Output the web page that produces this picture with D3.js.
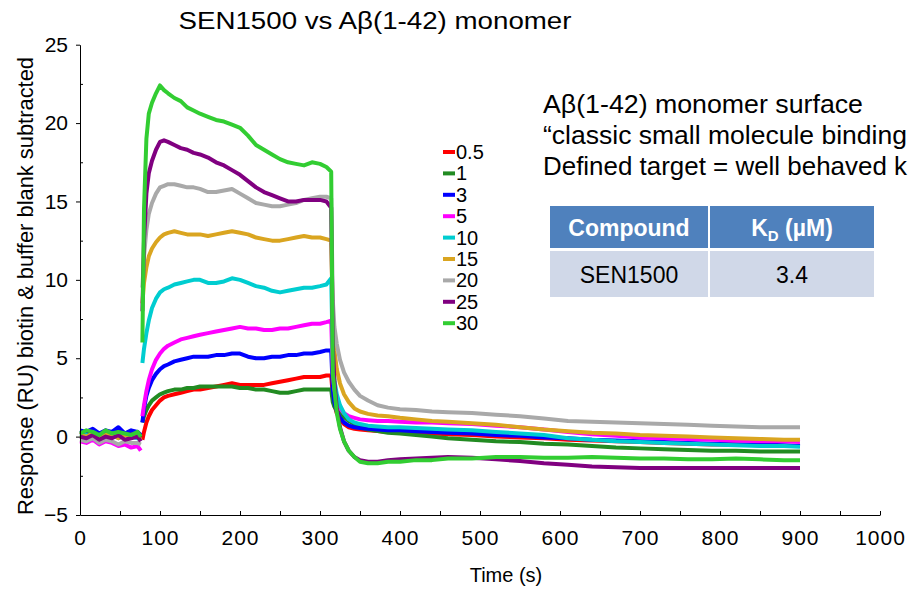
<!DOCTYPE html>
<html>
<head>
<meta charset="utf-8">
<script src="https://cdn.jsdelivr.net/npm/d3@7/dist/d3.min.js"></script>
<style>
  html, body { margin: 0; padding: 0; background: #fff; }
  svg { display: block; font-family: "Liberation Sans", Arial, Helvetica, sans-serif; }
</style>
</head>
<body>
<svg id="chart" width="912" height="590"></svg>
<script>
// Sensorgram time grid (s); null entries split baseline from injection
const times = [
  0, 8, 16, 24, 32, 40, 48, 56, 64, 72, 76,
  77,
  78, 80, 83, 86, 90, 95, 100, 105, 110, 118, 126, 134, 142, 150, 160, 170, 180, 190, 200, 210,
  220, 230, 240, 250, 260, 270, 280, 290, 300, 308, 314,
  316, 318, 321, 325, 330, 336, 343, 350, 360, 372, 385, 400, 420, 440, 460, 490, 520, 550, 580, 610,
  640, 670, 700, 730, 760, 790, 820, 850, 880, 900
];

// Concentrations (µM) and their trace colours
const concentrations = ["0.5", "1", "3", "5", "10", "15", "20", "25", "30"];
const traceColors = ["#ff0000", "#228b22", "#0000ff", "#ff00ff", "#00cdd0", "#daa520", "#a9a9a9", "#800080", "#32cd32"];

// Response (RU), biotin & buffer blank subtracted
const resp05 = [
  0.3, 0.2, 0.4, 0.1, 0.3, 0.2, 0.4, 0.1, 0.3, 0.2, 0.0,
  null,
  -0.2, 0.3, 0.9, 1.3, 1.7, 2.0, 2.3, 2.5, 2.6, 2.7, 2.8, 2.9, 3.0, 3.0, 3.1, 3.2, 3.3, 3.4, 3.3, 3.3,
  3.3, 3.3, 3.4, 3.5, 3.6, 3.7, 3.8, 3.8, 3.8, 3.9, 3.9,
  2.6, 2.0, 1.5, 1.1, 0.8, 0.6, 0.5, 0.45, 0.4, 0.35, 0.3, 0.3, 0.25, 0.2, 0.15, 0.1, 0.0, -0.05, -0.1, -0.2,
  -0.25, -0.3, -0.35, -0.4, -0.45, -0.5, -0.5, -0.55, -0.6, -0.6
];
const resp1 = [
  0.1, 0.2, 0.0, 0.2, 0.1, 0.3, 0.0, 0.2, 0.1, 0.1, -0.1,
  null,
  0.9, 1.3, 1.7, 2.0, 2.3, 2.5, 2.7, 2.8, 2.9, 3.0, 3.0, 3.1, 3.1, 3.2, 3.2, 3.2, 3.2, 3.2, 3.1, 3.1,
  3.0, 3.0, 2.9, 2.8, 2.8, 2.9, 3.0, 3.0, 3.0, 3.0, 3.0,
  2.2, 1.9, 1.7, 1.5, 1.25, 1.0, 0.8, 0.6, 0.45, 0.35, 0.25, 0.2, 0.1, 0.0, -0.1, -0.2, -0.3, -0.35, -0.45, -0.5,
  -0.6, -0.7, -0.75, -0.8, -0.85, -0.9, -0.9, -0.95, -0.95, -0.95
];
const resp3 = [
  0.4, 0.3, 0.5, 0.2, 0.4, 0.3, 0.6, 0.2, 0.4, 0.3, 0.1,
  null,
  0.9, 1.8, 2.6, 3.1, 3.6, 4.0, 4.3, 4.5, 4.6, 4.8, 4.9, 5.0, 5.1, 5.1, 5.1, 5.2, 5.2, 5.3, 5.3, 5.1,
  5.0, 5.0, 5.1, 5.1, 5.2, 5.2, 5.3, 5.3, 5.4, 5.5, 5.5,
  3.0, 2.2, 1.6, 1.2, 0.9, 0.7, 0.6, 0.55, 0.5, 0.45, 0.4, 0.4, 0.35, 0.3, 0.25, 0.2, 0.1, 0.05, -0.05, -0.1,
  -0.2, -0.25, -0.3, -0.35, -0.4, -0.45, -0.5, -0.5, -0.55, -0.6
];
const resp5 = [
  -0.3, -0.4, -0.2, -0.5, -0.3, -0.4, -0.6, -0.5, -0.7, -0.6, -0.9,
  null,
  1.3, 2.0, 2.9, 3.6, 4.3, 4.9, 5.3, 5.6, 5.8, 6.0, 6.2, 6.3, 6.4, 6.5, 6.6, 6.7, 6.8, 6.9, 7.0, 6.9,
  6.9, 6.8, 6.8, 6.9, 6.9, 7.0, 7.1, 7.2, 7.2, 7.3, 7.4,
  4.0, 3.0, 2.3, 1.8, 1.5, 1.3, 1.2, 1.1, 1.05, 1.0, 1.0, 0.95, 0.9, 0.9, 0.85, 0.8, 0.7, 0.6, 0.45, 0.3,
  0.15, 0.05, -0.05, -0.1, -0.15, -0.2, -0.25, -0.3, -0.3, -0.35
];
const resp10 = [
  0.0, 0.1, -0.1, 0.1, 0.0, 0.2, -0.1, 0.1, 0.0, -0.1, -0.2,
  null,
  4.7, 5.6, 6.6, 7.4, 8.2, 8.8, 9.2, 9.4, 9.5, 9.7, 9.8, 9.9, 10.0, 10.0, 9.8, 9.8, 9.9, 10.1, 10.0, 9.8,
  9.6, 9.5, 9.3, 9.2, 9.3, 9.4, 9.5, 9.5, 9.6, 9.7, 10.1,
  5.0, 3.6, 2.7, 2.0, 1.5, 1.1, 0.9, 0.8, 0.7, 0.65, 0.6, 0.6, 0.55, 0.5, 0.45, 0.4, 0.3, 0.2, 0.1, -0.1,
  -0.2, -0.3, -0.35, -0.4, -0.45, -0.5, -0.55, -0.6, -0.6, -0.65
];
const resp15 = [
  0.1, 0.0, 0.2, 0.0, 0.1, 0.1, -0.1, 0.1, 0.0, 0.0, -0.2,
  null,
  8.5, 9.8, 10.8, 11.5, 12.0, 12.4, 12.7, 12.9, 13.0, 13.1, 13.0, 12.9, 12.9, 12.9, 12.8, 12.9, 13.0, 13.1, 13.0, 12.9,
  12.7, 12.6, 12.5, 12.5, 12.6, 12.7, 12.8, 12.7, 12.7, 12.6, 12.5,
  7.5, 5.5, 4.3, 3.4, 2.7, 2.2, 1.8, 1.6, 1.45, 1.35, 1.3, 1.2, 1.1, 1.0, 0.95, 0.85, 0.75, 0.6, 0.45, 0.35,
  0.25, 0.2, 0.1, 0.05, 0.0, -0.05, -0.1, -0.15, -0.2, -0.2
];
const resp20 = [
  -0.2, -0.3, -0.1, -0.4, -0.2, -0.3, -0.5, -0.3, -0.4, -0.4, -0.5,
  null,
  9.5, 11.5, 13.2, 14.2, 14.9, 15.5, 15.9, 16.0, 16.1, 16.1, 16.0, 15.9, 15.9, 15.8, 15.6, 15.6, 15.7, 15.8, 15.5, 15.2,
  14.9, 14.8, 14.7, 14.7, 14.8, 14.9, 15.1, 15.2, 15.3, 15.3, 15.2,
  8.7, 7.0, 5.9, 4.9, 4.1, 3.5, 3.0, 2.6, 2.3, 2.0, 1.85, 1.75, 1.7, 1.6, 1.55, 1.5, 1.4, 1.3, 1.15, 1.0,
  0.95, 0.9, 0.85, 0.8, 0.75, 0.7, 0.65, 0.6, 0.6, 0.6
];
const resp25 = [
  0.0, -0.1, 0.1, -0.2, 0.0, -0.1, 0.1, -0.2, -0.1, 0.0, -0.3,
  null,
  8.0, 12.5, 15.5, 16.8, 17.6, 18.3, 18.8, 18.9, 18.8, 18.6, 18.4, 18.3, 18.1, 18.0, 17.8, 17.5, 17.3, 17.0, 16.7, 16.3,
  15.9, 15.6, 15.4, 15.2, 15.0, 15.0, 15.1, 15.1, 15.1, 15.0, 14.6,
  6.0, 3.5, 1.8, 0.6, -0.3, -0.9, -1.3, -1.5, -1.6, -1.6, -1.5, -1.45, -1.4, -1.35, -1.3, -1.35, -1.45, -1.55, -1.7, -1.8,
  -1.9, -1.95, -2.0, -2.0, -2.0, -2.0, -2.0, -2.0, -2.0, -2.0
];
const resp30 = [
  0.2, 0.4, 0.3, 0.1, 0.4, 0.2, 0.3, 0.2, 0.1, 0.3, 0.0,
  null,
  6.0, 14.5, 19.0, 20.6, 21.3, 21.9, 22.4, 22.1, 21.9, 21.6, 21.4, 21.0, 20.8, 20.6, 20.4, 20.2, 20.1, 19.9, 19.7, 19.2,
  18.6, 18.3, 18.0, 17.7, 17.5, 17.4, 17.3, 17.5, 17.4, 17.2, 16.9,
  4.0, 3.0, 1.5, 0.5, -0.3, -0.9, -1.3, -1.6, -1.7, -1.7, -1.6, -1.6, -1.5, -1.5, -1.4, -1.4, -1.3, -1.3, -1.35, -1.35,
  -1.3, -1.35, -1.4, -1.4, -1.45, -1.45, -1.4, -1.45, -1.5, -1.5
];
const responses = [resp05, resp1, resp3, resp5, resp10, resp15, resp20, resp25, resp30];

// Axis ticks
const xTicks = [0, 100, 200, 300, 400, 500, 600, 700, 800, 900, 1000];
const xMinorTicks = [50, 150, 250, 350, 450, 550, 650, 750, 850, 950];
const yTicks = [-5, 0, 5, 10, 15, 20, 25];
const yMinorTicks = [-2.5, 2.5, 7.5, 12.5, 17.5, 22.5];

// Fitted affinity table
const tableHeader = ["Compound", "KD (µM)"];
const tableCompound = ["SEN1500"];
const tableKd = [3.4];

const svg = d3.select("#chart");
const FONT = '"Liberation Sans", Arial, Helvetica, sans-serif';

const x = d3.scaleLinear().domain([0, 1000]).range([80, 880]);
const y = d3.scaleLinear().domain([-5, 25]).range([515, 44.7]);

svg.append("rect").attr("width", 912).attr("height", 590).attr("fill", "#fff");

// Traces
const line = d3.line()
  .defined(d => d.v !== null)
  .x(d => x(d.t))
  .y(d => y(d.v));

const traces = svg.append("g").attr("class", "traces");
responses.forEach((series, i) => {
  const pts = times.map((t, k) => ({ t, v: series[k] }));
  traces.append("path")
    .datum(pts)
    .attr("fill", "none")
    .attr("stroke", traceColors[i])
    .attr("stroke-width", 4)
    .attr("stroke-linejoin", "round")
    .attr("d", line);
});

// Axes
const xAxis = svg.append("g")
  .attr("transform", `translate(0,${y(-5)})`)
  .call(d3.axisBottom(x).tickValues(xTicks).tickFormat(d3.format("d"))
    .tickSizeInner(-4).tickSizeOuter(0).tickPadding(15));
svg.append("g")
  .attr("transform", `translate(0,${y(-5)})`)
  .call(d3.axisBottom(x).tickValues(xMinorTicks).tickSizeInner(-4).tickSizeOuter(0).tickFormat(""))
  .call(g => g.select(".domain").remove());
xAxis.selectAll("text")
  .attr("font-family", FONT).attr("font-size", 21).attr("fill", "#000")
  .attr("letter-spacing", 1);

const yAxis = svg.append("g")
  .attr("transform", `translate(${x(0)},0)`)
  .call(d3.axisLeft(y).tickValues(yTicks).tickSizeInner(4).tickSizeOuter(0).tickPadding(8));
svg.append("g")
  .attr("transform", `translate(${x(0)},0)`)
  .call(d3.axisLeft(y).tickValues(yMinorTicks).tickSizeInner(-3).tickSizeOuter(0).tickFormat(""))
  .call(g => g.select(".domain").remove());
yAxis.selectAll("text")
  .attr("font-family", FONT).attr("font-size", 21).attr("fill", "#000");
svg.selectAll(".domain, .tick line").attr("stroke", "#000").attr("stroke-width", 1);

// Axis titles
svg.append("text")
  .attr("x", 506).attr("y", 582)
  .attr("text-anchor", "middle")
  .attr("font-family", FONT).attr("font-size", 20)
  .text("Time (s)");

svg.append("text")
  .attr("transform", "translate(33,286) rotate(-90)")
  .attr("text-anchor", "middle")
  .attr("font-family", FONT).attr("font-size", 22)
  .attr("textLength", 458).attr("lengthAdjust", "spacingAndGlyphs")
  .text("Response (RU) biotin & buffer blank subtracted");

// Title
svg.append("text")
  .attr("x", 375).attr("y", 29)
  .attr("text-anchor", "middle")
  .attr("font-family", FONT).attr("font-size", 23)
  .attr("textLength", 393).attr("lengthAdjust", "spacingAndGlyphs")
  .text("SEN1500 vs Aβ(1-42) monomer");

// Legend
const legend = svg.append("g").attr("class", "legend");
concentrations.forEach((c, i) => {
  const ly = 152 + i * 21.4;
  legend.append("line")
    .attr("x1", 443).attr("x2", 455).attr("y1", ly).attr("y2", ly)
    .attr("stroke", traceColors[i]).attr("stroke-width", 4);
  legend.append("text")
    .attr("x", 456).attr("y", ly).attr("dy", "0.35em")
    .attr("font-family", FONT).attr("font-size", 20)
    .text(c);
});

// Annotation (the slide frame ends mid-line on the right)
const noteLines = ["Aβ(1-42) monomer surface", "“classic small molecule binding", "Defined target = well behaved k"];
const noteWidths = [320, 364, 364];
noteLines.forEach((s, i) => svg.append("text")
  .attr("x", 543).attr("y", 113 + i * 31)
  .attr("font-family", FONT).attr("font-size", 25)
  .attr("textLength", noteWidths[i]).attr("lengthAdjust", "spacingAndGlyphs")
  .text(s));

// Table
const tbl = svg.append("g");
const colX = [550, 710];
const colW = [158, 164];
tbl.selectAll("rect.h").data(colX).enter().append("rect")
  .attr("x", d => d).attr("y", 206).attr("width", (d, i) => colW[i]).attr("height", 42)
  .attr("fill", "#4f81bd");
tbl.selectAll("rect.r").data(colX).enter().append("rect")
  .attr("x", d => d).attr("y", 251).attr("width", (d, i) => colW[i]).attr("height", 46)
  .attr("fill", "#d0d8e8");

tbl.append("text")
  .attr("x", colX[0] + colW[0] / 2).attr("y", 236)
  .attr("text-anchor", "middle")
  .attr("font-family", FONT).attr("font-size", 23).attr("font-weight", "bold").attr("fill", "#fff")
  .text(tableHeader[0]);
const kd = tbl.append("text")
  .attr("x", colX[1] + colW[1] / 2).attr("y", 236)
  .attr("text-anchor", "middle")
  .attr("font-family", FONT).attr("font-size", 23).attr("font-weight", "bold").attr("fill", "#fff");
kd.append("tspan").text(tableHeader[1].charAt(0));
kd.append("tspan").attr("font-size", 15).attr("dy", 5).text(tableHeader[1].charAt(1));
kd.append("tspan").attr("dy", -5).text(" " + tableHeader[1].slice(3));

tbl.append("text")
  .attr("x", colX[0] + colW[0] / 2).attr("y", 283)
  .attr("text-anchor", "middle")
  .attr("font-family", FONT).attr("font-size", 23).attr("fill", "#000")
  .text(tableCompound[0]);
tbl.append("text")
  .attr("x", colX[1] + colW[1] / 2).attr("y", 283)
  .attr("text-anchor", "middle")
  .attr("font-family", FONT).attr("font-size", 23).attr("fill", "#000")
  .text(tableKd[0].toFixed(1));
</script>
</body>
</html>
